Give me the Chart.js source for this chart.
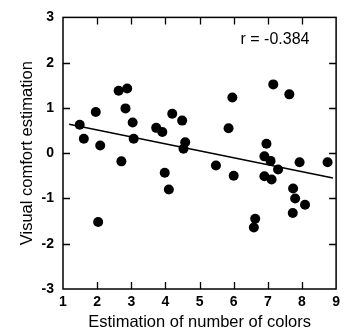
<!DOCTYPE html>
<html><head><meta charset="utf-8">
<script src="https://cdn.jsdelivr.net/npm/chart.js@4/dist/chart.umd.min.js"></script>
<style>html,body{margin:0;padding:0;background:#fff}</style>
</head><body>
<canvas id="c" width="345" height="332" style="display:block;width:345px;height:332px"></canvas>
<script>
// Data
const colorEstimates = [1.49,1.61,1.96,2.09,2.63,2.88,2.83,3.04,3.07,2.71,3.73,3.91,4.20,4.49,4.58,4.53,5.96,5.85,5.48,7.16,7.63,6.96,6.90,7.08,7.30,7.93,8.75,3.98,4.10,2.03,6.00,6.90,7.11,7.74,7.80,8.09,7.73,6.63,6.59];
const comfortEstimates = [0.63,0.32,0.91,0.17,1.38,1.43,0.99,0.68,0.32,-0.18,0.56,0.47,0.87,0.72,0.24,0.10,1.23,0.55,-0.27,1.52,1.30,0.21,-0.07,-0.17,-0.36,-0.20,-0.20,-0.43,-0.80,-1.52,-0.50,-0.51,-0.58,-0.78,-1.00,-1.14,-1.32,-1.45,-1.64];
const fitLineX = [1.18, 8.91];
const fitLineY = [0.64, -0.55];
const xTickValues = [1,2,3,4,5,6,7,8,9];
const yTickValues = [-3,-2,-1,0,1,2,3];
const xTitle = 'Estimation of number of colors';
const yTitle = 'Visual comfort estimation';
const rLabel = 'r = -0.384';
const rLabelPos = [6.2, 2.52];

const FONT = '"Liberation Sans", Arial, Helvetica, sans-serif';

const framePlugin = {
  id: 'frame',
  afterDraw(chart) {
    const {ctx, chartArea: a, scales: {x, y}} = chart;
    ctx.save();
    ctx.strokeStyle = '#000';
    ctx.lineWidth = 1.5;
    ctx.strokeRect(a.left, a.top, a.right - a.left, a.bottom - a.top);
    const L = 7;
    ctx.beginPath();
    xTickValues.slice(1, -1).forEach(v => {
      const p = Math.round(x.getPixelForValue(v)) + 0.5;
      ctx.moveTo(p, a.bottom); ctx.lineTo(p, a.bottom - L);
      ctx.moveTo(p, a.top); ctx.lineTo(p, a.top + L);
    });
    yTickValues.slice(1, -1).forEach(v => {
      const p = Math.round(y.getPixelForValue(v)) + 0.5;
      ctx.moveTo(a.left, p); ctx.lineTo(a.left + L, p);
      ctx.moveTo(a.right, p); ctx.lineTo(a.right - L, p);
    });
    ctx.lineWidth = 1.3;
    ctx.stroke();
    ctx.fillStyle = '#000';
    ctx.font = '16px ' + FONT;
    ctx.textAlign = 'left';
    ctx.textBaseline = 'middle';
    ctx.fillText(rLabel, x.getPixelForValue(rLabelPos[0]), y.getPixelForValue(rLabelPos[1]));
    ctx.restore();
  }
};

new Chart(document.getElementById('c'), {
  type: 'scatter',
  data: {
    datasets: [
      {
        data: colorEstimates.map((v, i) => ({x: v, y: comfortEstimates[i]})),
        backgroundColor: '#000',
        borderColor: '#000',
        pointRadius: 5,
        pointHoverRadius: 5,
        borderWidth: 0
      },
      {
        type: 'line',
        data: fitLineX.map((v, i) => ({x: v, y: fitLineY[i]})),
        borderColor: '#000',
        borderWidth: 1.5,
        pointRadius: 0,
        fill: false
      }
    ]
  },
  options: {
    responsive: false,
    animation: false,
    devicePixelRatio: 1,
    layout: {padding: {top: 14, right: 7, left: 0, bottom: 0}},
    plugins: {legend: {display: false}, tooltip: {enabled: false}},
    scales: {
      x: {
        type: 'linear', min: 1, max: 9,
        afterBuildTicks: s => { s.ticks = xTickValues.map(v => ({value: v})); },
        ticks: {color: '#000', font: {family: FONT, size: 14, weight: 'bold'}, padding: 5, maxRotation: 0},
        grid: {display: false, drawTicks: false},
        border: {display: false},
        title: {display: true, text: xTitle, color: '#000', font: {family: FONT, size: 16.5, lineHeight: 1.1}, padding: {top: 0, bottom: 0}},
        afterFit: s => { s.height = 43; }
      },
      y: {
        type: 'linear', min: -3, max: 3,
        afterBuildTicks: s => { s.ticks = yTickValues.map(v => ({value: v})); },
        ticks: {color: '#000', font: {family: FONT, size: 14, weight: 'bold'}, padding: 9},
        grid: {display: false, drawTicks: false},
        border: {display: false},
        title: {display: true, text: yTitle, color: '#000', font: {family: FONT, size: 16.5, lineHeight: 1.1}, padding: {top: 18, bottom: 0}},
        afterFit: s => { s.width = 63; }
      }
    }
  },
  plugins: [framePlugin]
});
</script>
</body></html>
